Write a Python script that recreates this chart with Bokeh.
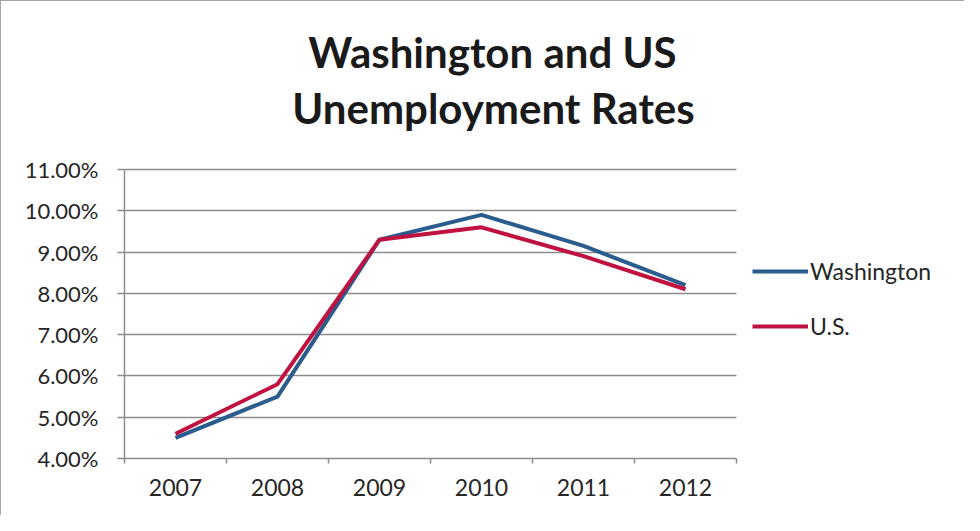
from bokeh.plotting import figure
from bokeh.models import (Range1d, FixedTicker, PrintfTickFormatter, Label,
                          Legend, LegendItem)
from bokeh.embed import file_html
from bokeh.resources import INLINE

years = ["2007", "2008", "2009", "2010", "2011", "2012"]
washington = [4.5, 5.5, 9.3, 9.9, 9.15, 8.2]
us = [4.6, 5.8, 9.3, 9.6, 8.9, 8.1]
y_ticks = [4, 5, 6, 7, 8, 9, 10, 11]
title_lines = ["Washington and US", "Unemployment Rates"]
series_names = ["Washington", "U.S."]

BLUE = "#2b5c8e"
RED = "#c0123f"
GRID = "#8c8c8c"
FONT = "Lato"

W, H = 964, 515
LEFT, BOTTOM = 123, 58          # space for the y and x axes
PLOT_W, PLOT_H = 612, 289       # size of the gridded chart area

xs = [i + 0.5 for i in range(len(years))]
n = len(years)
y0, y1 = y_ticks[0], y_ticks[-1]

# the frame covers the whole canvas right of / above the axes, so that the
# title and legend (drawn inside it) are not clipped; axes and grid are bounded
x_end = n * (W - LEFT) / PLOT_W
y_end = y0 + (y1 - y0) * (H - BOTTOM) / PLOT_H

p = figure(width=W, height=H, output_backend="svg", toolbar_location=None,
           x_range=Range1d(0, x_end), y_range=Range1d(y0, y_end),
           min_border_left=LEFT, min_border_right=0,
           min_border_top=0, min_border_bottom=BOTTOM)
p.title = None
p.outline_line_color = None
p.background_fill_color = "white"
p.border_fill_color = "white"
p.styles = {"border-top": "1px solid #a6a6a6", "border-left": "1px solid #a6a6a6"}

# x axis: labels at category centres, tick marks at boundaries (minor ticks)
p.xaxis.bounds = (0, n)
p.xaxis.ticker = FixedTicker(ticks=xs, minor_ticks=list(range(n + 1)))
p.xaxis.major_label_overrides = {x: y for x, y in zip(xs, years)}
p.xaxis.major_tick_out = 0
p.xaxis.major_tick_in = 0
p.xaxis.minor_tick_out = 5
p.xaxis.minor_tick_in = 0
p.xaxis.minor_tick_line_color = GRID
p.xaxis.minor_tick_line_width = 1.5
p.xaxis.axis_line_color = GRID
p.xaxis.axis_line_width = 1.5
p.xaxis.major_label_standoff = 15
p.xaxis.major_label_text_font = FONT
p.xaxis.major_label_text_font_size = "23px"
p.xaxis.major_label_text_color = "#262626"
p.xgrid.visible = False

p.yaxis.bounds = (y0, y1)
p.yaxis.ticker = FixedTicker(ticks=y_ticks, minor_ticks=[])
p.yaxis.formatter = PrintfTickFormatter(format="%.2f%%")
p.yaxis.major_tick_out = 7
p.yaxis.major_tick_in = 0
p.yaxis.major_tick_line_color = GRID
p.yaxis.major_tick_line_width = 1.5
p.yaxis.axis_line_color = GRID
p.yaxis.axis_line_width = 1.5
p.yaxis.major_label_standoff = 19
p.yaxis.major_label_text_font = FONT
p.yaxis.major_label_text_font_size = "22px"
p.yaxis.major_label_text_color = "#262626"
p.ygrid.grid_line_color = GRID
p.ygrid.grid_line_width = 1.5
p.ygrid.cross_bounds = (0, n)

r1 = p.line(xs, washington, line_color=BLUE, line_width=4, line_join="round")
r2 = p.line(xs, us, line_color=RED, line_width=4, line_join="round")

legend = Legend(items=[LegendItem(label=series_names[0], renderers=[r1]),
                       LegendItem(label=series_names[1], renderers=[r2])],
                location=(628, 118))
legend.border_line_color = None
legend.background_fill_alpha = 0
legend.padding = 0
legend.margin = 0
legend.spacing = 27
legend.glyph_width = 56
legend.glyph_height = 26
legend.label_height = 26
legend.label_standoff = 2
legend.label_text_font = FONT
legend.label_text_font_size = "23px"
legend.label_text_color = "#262626"
p.add_layout(legend, "center")

for txt, xx, yy in zip(title_lines, [368, 369], [407, 351]):
    p.add_layout(Label(x=xx, y=yy, x_units="screen", y_units="screen", text=txt,
                       text_align="center", text_baseline="alphabetic",
                       text_font=FONT, text_font_style="bold",
                       text_font_size="42px", text_color="#1a1a1a"))

open("out.html", "w").write(file_html(p, INLINE))
